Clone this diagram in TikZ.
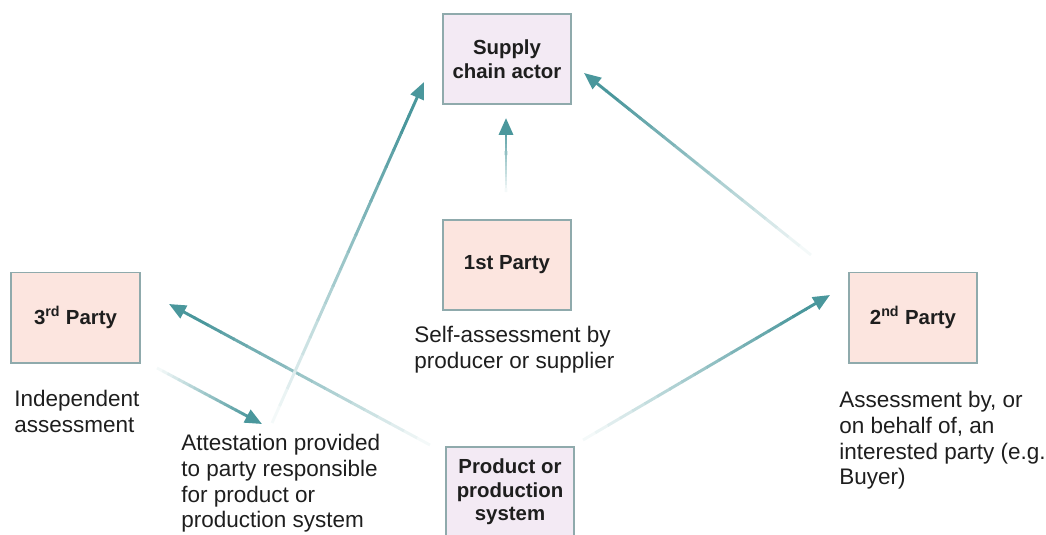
\documentclass[tikz,border=0pt]{standalone}
\usepackage{fontspec}
\setmainfont{Liberation Sans}
\usetikzlibrary{arrows.meta,calc}

\definecolor{boxline}{HTML}{8FAAAC}
\definecolor{lavender}{HTML}{F3EAF4}
\definecolor{peach}{HTML}{FCE5DF}
\definecolor{teal}{HTML}{4A979C}
\definecolor{txt}{HTML}{1E1E1E}

\tikzset{
  box/.style={draw=boxline, line width=1.4pt, minimum width=3.2cm, minimum height=2.25cm,
    align=center, font=\fontsize{14.5}{16.8}\selectfont\bfseries, text=txt},
  actorbox/.style={box, fill=lavender},
  partybox/.style={box, fill=peach},
  note/.style={anchor=north west, inner sep=0pt, align=left, text=txt,
    font=\fontsize{16}{18.3}\selectfont},
  arrowline/.style={line width=2.1pt},
}

% arrow that fades in from white to teal
\newcommand{\fadearrow}[2]{%
  \foreach \k in {0,...,17}{%
    \pgfmathtruncatemacro{\shade}{6+94*\k/17}
    \draw[arrowline, teal!\shade!white] ($(#1)!\k/20!(#2)$) -- ($(#1)!{(\k+1.05)/20}!(#2)$);
  }
  \draw[arrowline, teal, -{Triangle[length=12pt, width=10pt]}] ($(#1)!0.9!(#2)$) -- (#2);
}

\begin{document}
\begin{tikzpicture}[x=0.025cm, y=-0.025cm]
  \useasboundingbox (0,0) rectangle (1046,534);

  % boxes
  \node[actorbox] (sca) at (507, 59) {Supply\\chain actor};
  \node[partybox] (p1) at (507, 265) {1st Party};
  \node[partybox] (p3) at (75.5, 317.5) {3\textsuperscript{rd} Party};
  \node[partybox] (p2) at (913, 317.5) {2\textsuperscript{nd} Party};
  \node[actorbox] (prod) at (510, 492) {Product or\\production\\system};

  % notes
  \node[note] (selfnote) at (414, 326) {Self-assessment by\\producer or supplier};
  \node[note] (indnote) at (14, 390) {Independent\\assessment};
  \node[note] (attnote) at (181, 434) {Attestation provided\\to party responsible\\for product or\\production system};
  \node[note] (secnote) at (839, 391) {Assessment by, or\\on behalf of, an\\interested party (e.g.\\Buyer)};

  % arrow ends
  \coordinate (p1out) at (506, 192);
  \coordinate (scabot) at (506, 118);
  \coordinate (p2out) at (811, 255);
  \coordinate (scaright) at (584, 73);
  \coordinate (prodright) at (583, 440);
  \coordinate (p2in) at (830, 295);
  \coordinate (prodleft) at (430, 445);
  \coordinate (p3in) at (169, 304);
  \coordinate (p3out) at (157, 368);
  \coordinate (attin) at (262, 424);
  \coordinate (attout) at (272, 423);
  \coordinate (scaleft) at (424, 82);

  % arrows
  \fadearrow{p1out}{scabot}
  \fadearrow{p2out}{scaright}
  \fadearrow{prodright}{p2in}
  \fadearrow{prodleft}{p3in}
  \fadearrow{p3out}{attin}
  \fadearrow{attout}{scaleft}
\end{tikzpicture}
\end{document}
